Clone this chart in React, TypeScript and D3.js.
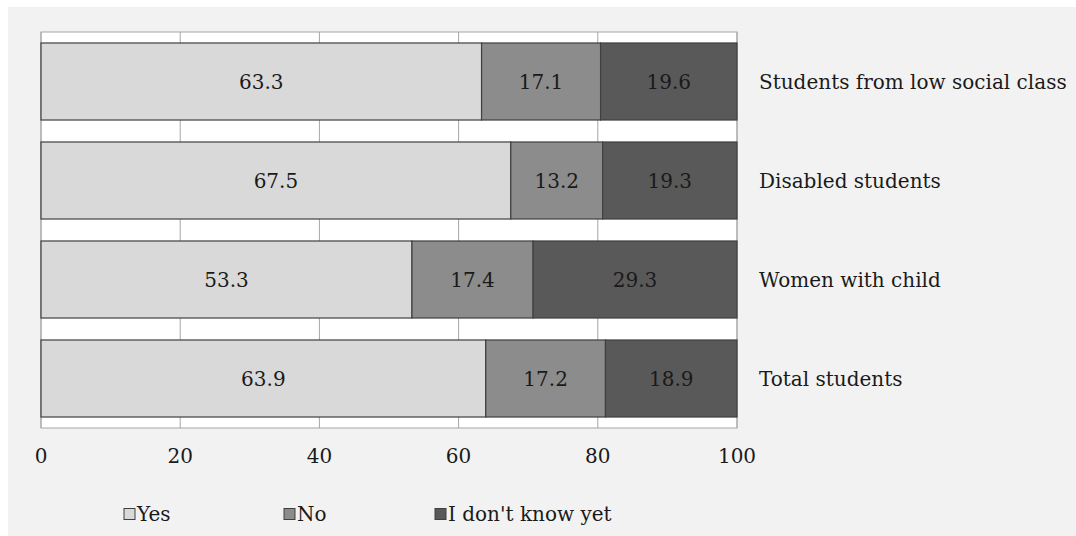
import React from "react";
import * as d3 from "d3";

const categories = ["Students from low social class", "Disabled students", "Women with child", "Total students"];
const seriesNames = ["Yes", "No", "I don't know yet"];
const yesValues = [63.3, 67.5, 53.3, 63.9];
const noValues = [17.1, 13.2, 17.4, 17.2];
const dkValues = [19.6, 19.3, 29.3, 18.9];
const xTicks = [0, 20, 40, 60, 80, 100];
const colors = ["#d9d9d9", "#8c8c8c", "#595959"];

const W = 1076, H = 536;
const FONT = "'DejaVu Serif', serif";

export default function App() {
  const x = d3.scaleLinear().domain([0, 100]).range([41, 737]);
  const y = d3.scaleBand<string>().domain(categories).range([32, 428]).paddingInner(0.222).paddingOuter(0.111);
  const rows = categories.map((c, i) => ({ cat: c, Yes: yesValues[i], No: noValues[i], "I don't know yet": dkValues[i] }));
  const stack = d3.stack<any>().keys(seriesNames)(rows);
  const legendX = [124, 284, 435];
  return (
    <svg width={W} height={H} style={{ position: "absolute", left: 0, top: 0 }}>
      <rect x={0} y={0} width={W} height={H} fill="#ffffff" />
      <rect x={8} y={7} width={W - 8} height={H - 7} fill="#f2f2f2" />
      <rect x={x(0)} y={32} width={x(100) - x(0)} height={396} fill="#ffffff" stroke="#a6a6a6" strokeWidth={1} />
      {xTicks.map(t => (
        <line key={t} x1={x(t)} x2={x(t)} y1={32} y2={428} stroke="#a6a6a6" strokeWidth={1} />
      ))}
      {stack.map((s, si) => (
        <g key={si}>
          {s.map((d, i) => {
            const cat = categories[i];
            const x0 = x(d[0]), x1 = x(d[1]);
            const yy = y(cat)!;
            return (
              <g key={i}>
                <rect x={x0} y={yy} width={x1 - x0} height={y.bandwidth()} fill={colors[si]} stroke="#404040" strokeWidth={1.2} />
                <text x={(x0 + x1) / 2} y={yy + y.bandwidth() / 2} textAnchor="middle" dominantBaseline="central"
                  fontFamily={FONT} fontSize={20} fill="#1a1a1a">{(d[1] - d[0]).toFixed(1)}</text>
              </g>
            );
          })}
        </g>
      ))}
      {categories.map(c => (
        <text key={c} x={759} y={y(c)! + y.bandwidth() / 2} dominantBaseline="central" fontFamily={FONT} fontSize={20} fill="#1a1a1a">{c}</text>
      ))}
      {xTicks.map(t => (
        <text key={t} x={x(t)} y={456} textAnchor="middle" dominantBaseline="central" fontFamily={FONT} fontSize={20} fill="#1a1a1a">{t}</text>
      ))}
      {seriesNames.map((n, i) => (
        <g key={n}>
          <rect x={legendX[i]} y={508.5} width={11} height={11} fill={colors[i]} stroke="#404040" strokeWidth={1} />
          <text x={legendX[i] + 13} y={514} dominantBaseline="central" fontFamily={FONT} fontSize={20} fill="#1a1a1a">{n}</text>
        </g>
      ))}
    </svg>
  );
}
